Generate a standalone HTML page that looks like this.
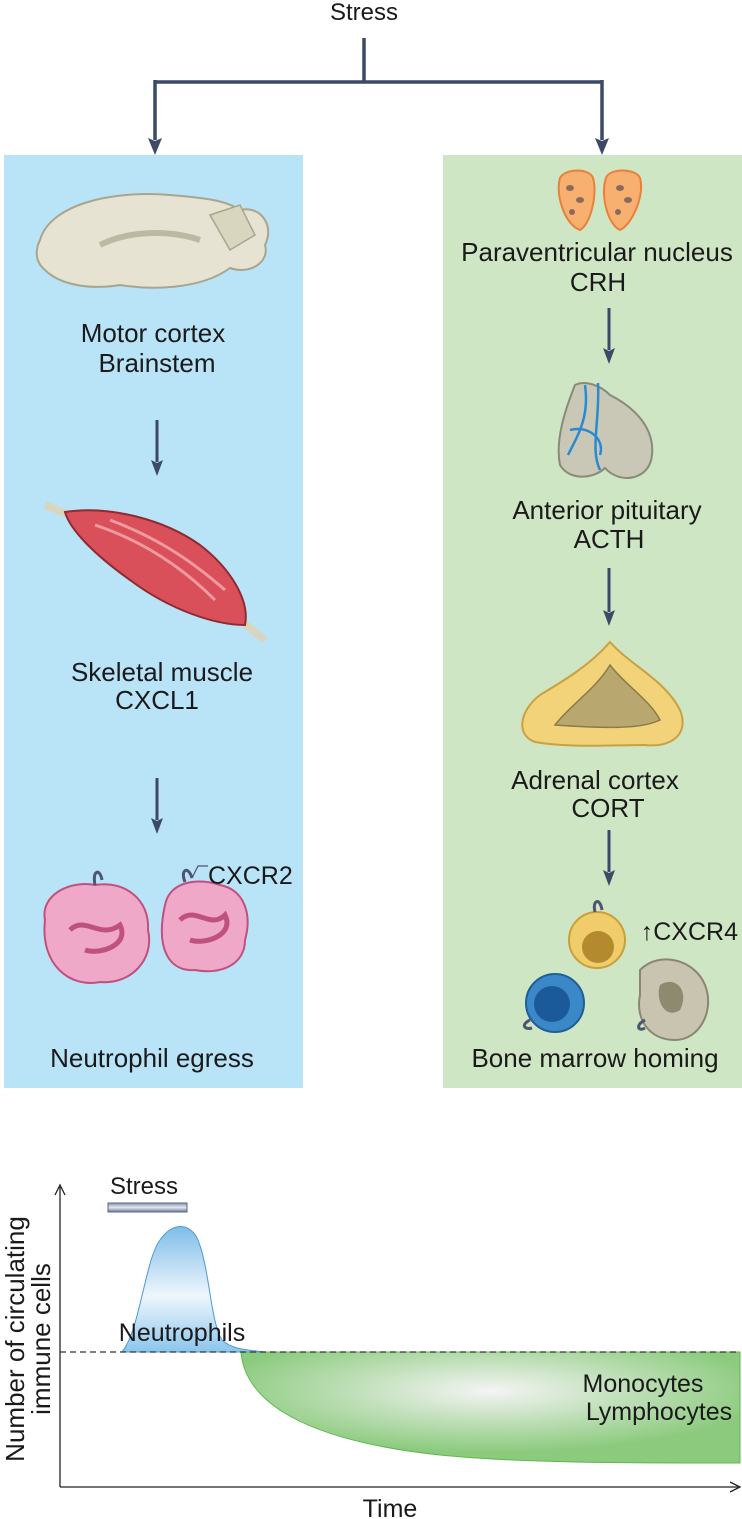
<!DOCTYPE html>
<html><head><meta charset="utf-8"><style>
html,body{margin:0;padding:0;background:#fff}
svg{display:block}
text{font-family:"Liberation Sans",Arial,sans-serif;fill:#1a1a1a}
</style></head><body>
<svg width="742" height="1519" viewBox="0 0 742 1519" xmlns="http://www.w3.org/2000/svg">
<defs>
<linearGradient id="blueg" x1="0" y1="0" x2="0" y2="1"><stop offset="0" stop-color="#7fbde8"/><stop offset="0.55" stop-color="#eef6fc"/><stop offset="1" stop-color="#8cc6ec"/></linearGradient>
<radialGradient id="greeng" cx="0.5" cy="0.35" r="0.55"><stop offset="0" stop-color="#f4f4f4"/><stop offset="1" stop-color="#8ccb7e"/></radialGradient>
<linearGradient id="barg" x1="0" y1="0" x2="0" y2="1"><stop offset="0" stop-color="#8893ad"/><stop offset="0.5" stop-color="#e2e6ee"/><stop offset="1" stop-color="#6c7896"/></linearGradient>
</defs>

<text x="364" y="20" font-size="24" text-anchor="middle">Stress</text>
<g stroke="#3d4a66" stroke-width="3.5" fill="none">
<path d="M364,38 V82 M155,82 H602 M155,80 V140 M602,80 V140"/>
</g>
<g fill="#3d4a66">
<path d="M148,138 L155,141 L162,138 L155,155Z"/>
<path d="M595,138 L602,141 L609,138 L602,155Z"/>
</g>

<rect x="4" y="155" width="299" height="933" fill="#b9e4f8"/>
<rect x="443" y="155" width="299" height="933" fill="#cfe6c4"/>

<!-- brain -->
<path d="M40,240 C50,205 110,190 170,195 C205,198 225,200 240,210 C260,205 275,225 265,245 C270,262 250,275 230,268 C200,290 150,290 120,285 C90,290 60,285 45,270 C35,262 35,250 40,240Z" fill="#e6e3d2" stroke="#a9a58d" stroke-width="2"/>
<path d="M210,215 L240,205 L255,235 L230,250Z" fill="#d9d6c0" stroke="#a9a58d" stroke-width="1.5"/>
<path d="M100,245 C130,230 170,230 200,240" stroke="#bcb9a2" stroke-width="6" fill="none"/>

<text x="153" y="342" font-size="26" text-anchor="middle">Motor cortex</text>
<text x="157" y="372" font-size="26" text-anchor="middle">Brainstem</text>

<g stroke="#3d4a66" stroke-width="3" fill="none">
<path d="M157,420 V462 M157,778 V820 M609,308 V350 M609,568 V612 M609,830 V872"/>
</g>
<g fill="#3d4a66">
<path d="M151,460 L157,463 L163,460 L157,476Z"/>
<path d="M151,818 L157,821 L163,818 L157,834Z"/>
<path d="M603,348 L609,351 L615,348 L609,364Z"/>
<path d="M603,610 L609,613 L615,610 L609,626Z"/>
<path d="M603,870 L609,873 L615,870 L609,886Z"/>
</g>

<!-- muscle -->
<path d="M45,505 L70,515" stroke="#d9d6c0" stroke-width="8"/>
<path d="M240,620 L265,640" stroke="#d9d6c0" stroke-width="8"/>
<path d="M65,512 C110,505 165,520 200,545 C230,568 250,600 245,625 C215,625 170,610 130,580 C95,555 70,530 65,512Z" fill="#d9505a" stroke="#8f2a30" stroke-width="2"/>
<path d="M95,525 C140,540 180,565 215,600 M110,520 C150,535 185,555 225,590" stroke="#ee9aa0" stroke-width="3" fill="none"/>

<text x="162" y="681" font-size="26" text-anchor="middle">Skeletal muscle</text>
<text x="157" y="709" font-size="26" text-anchor="middle">CXCL1</text>

<!-- neutrophils -->
<path d="M45,920 C40,895 70,880 95,885 C125,880 150,900 148,930 C155,960 130,985 100,982 C70,988 40,965 45,920Z" fill="#f0a8c8" stroke="#c0507e" stroke-width="2"/>
<path d="M70,930 C85,915 100,940 120,925 C130,945 100,955 85,950" stroke="#c0507e" stroke-width="5" fill="none"/>
<path d="M165,905 C170,880 200,878 220,885 C245,890 252,915 245,940 C245,965 220,975 195,970 C170,972 155,950 165,905Z" fill="#f0a8c8" stroke="#c0507e" stroke-width="2"/>
<path d="M180,920 C195,905 210,930 225,915 C235,935 205,945 190,940" stroke="#c0507e" stroke-width="5" fill="none"/>
<path d="M95,885 C92,870 100,868 102,880 M185,882 C180,870 188,865 192,878" stroke="#4d5570" stroke-width="3" fill="none"/>
<path d="M192,878 L198,866 L208,866" stroke="#4d5570" stroke-width="1.2" fill="none"/>
<text x="208" y="884" font-size="25">CXCR2</text>
<text x="152" y="1067" font-size="26" text-anchor="middle">Neutrophil egress</text>

<!-- PVN -->
<path d="M560,178 C565,168 590,168 593,178 C598,195 590,225 580,230 C565,225 555,195 560,178Z" fill="#f8b070" stroke="#e8803a" stroke-width="2"/>
<path d="M606,178 C609,168 636,168 640,178 C645,195 632,225 620,230 C608,225 600,195 606,178Z" fill="#f8b070" stroke="#e8803a" stroke-width="2"/>
<g fill="#8a6a5a"><ellipse cx="570" cy="188" rx="4" ry="3"/><ellipse cx="580" cy="200" rx="4" ry="3"/><ellipse cx="572" cy="212" rx="3" ry="3"/><ellipse cx="620" cy="188" rx="4" ry="3"/><ellipse cx="628" cy="200" rx="4" ry="3"/><ellipse cx="618" cy="212" rx="3" ry="3"/></g>
<text x="597" y="261" font-size="26" text-anchor="middle">Paraventricular nucleus</text>
<text x="598" y="291" font-size="26" text-anchor="middle">CRH</text>

<!-- pituitary -->
<path d="M575,385 C565,410 555,440 560,465 C570,482 595,478 605,468 C620,485 650,480 652,455 C655,425 630,405 610,395 C600,385 585,380 575,385Z" fill="#c9c8b6" stroke="#8a8a78" stroke-width="2"/>
<path d="M585,385 C590,420 575,440 568,455 M598,383 C600,420 590,450 600,470 M570,430 C590,425 605,440 600,455" stroke="#2a8ad0" stroke-width="2.5" fill="none"/>
<text x="607" y="519" font-size="26" text-anchor="middle">Anterior pituitary</text>
<text x="609" y="548" font-size="26" text-anchor="middle">ACTH</text>

<!-- adrenal -->
<path d="M610,642 C630,665 665,680 680,710 C690,735 670,748 645,745 C610,745 570,748 535,742 C515,735 520,710 540,695 C565,680 590,665 610,642Z" fill="#f3d37a" stroke="#c9a042" stroke-width="2"/>
<path d="M610,665 C625,685 650,700 660,720 C640,730 600,728 555,725 C570,705 595,690 610,665Z" fill="#b8a870" stroke="#8a7b48" stroke-width="1.5"/>
<text x="595" y="789" font-size="26" text-anchor="middle">Adrenal cortex</text>
<text x="608" y="817" font-size="26" text-anchor="middle">CORT</text>

<!-- cells -->
<circle cx="597" cy="940" r="28" fill="#f1cc6a" stroke="#c8a03a" stroke-width="2"/>
<circle cx="598" cy="947" r="16" fill="#b48a2e"/>
<circle cx="555" cy="1003" r="29" fill="#3b88c8" stroke="#1f5e96" stroke-width="2"/>
<circle cx="552" cy="1004" r="18" fill="#1a5a9a"/>
<path d="M640,970 C660,950 695,960 705,985 C715,1010 700,1040 675,1040 C650,1040 635,1020 640,995Z" fill="#c8c4b0" stroke="#8a8672" stroke-width="2"/>
<path d="M660,985 C675,975 690,990 680,1010 C665,1020 655,1000 660,985Z" fill="#8e8a70"/>
<path d="M595,912 C592,900 600,897 602,910 M530,1020 C520,1025 525,1030 532,1028 M645,1020 C635,1025 638,1032 645,1028" stroke="#4d5570" stroke-width="3" fill="none"/>
<text x="738" y="940" font-size="25" text-anchor="end">↑CXCR4</text>
<text x="595" y="1067" font-size="26" text-anchor="middle">Bone marrow homing</text>

<!-- graph -->
<g stroke="#222" stroke-width="1.3" fill="none">
<path d="M60,1487 V1187"/><path d="M55,1195 L60,1185 L65,1195"/>
<path d="M60,1487 H738"/><path d="M730,1482 L740,1487 L730,1492"/>
</g>
<rect x="108" y="1203" width="79" height="9" fill="url(#barg)" stroke="#5a6680" stroke-width="1"/>
<text x="110" y="1194" font-size="24">Stress</text>
<path d="M241,1352 C245,1400 300,1440 440,1455 C520,1463 620,1463 740,1463 V1352 Z" fill="url(#greeng)" stroke="#5cb84c" stroke-width="1"/>
<path d="M122,1352 C140,1330 145,1260 160,1240 C172,1222 190,1222 198,1240 C210,1270 210,1320 222,1340 C232,1350 250,1350 265,1352 Z" fill="url(#blueg)" stroke="#4a9ad8" stroke-width="1"/>
<path d="M60,1352 H740" stroke="#333" stroke-width="1.2" stroke-dasharray="6,4"/>
<text x="182" y="1341" font-size="25" text-anchor="middle">Neutrophils</text>
<text x="643" y="1392" font-size="25" text-anchor="middle">Monocytes</text>
<text x="659" y="1420" font-size="25" text-anchor="middle">Lymphocytes</text>
<text transform="translate(24,1339) rotate(-90)" font-size="26" text-anchor="middle">Number of circulating</text>
<text transform="translate(50,1339) rotate(-90)" font-size="26" text-anchor="middle">immune cells</text>
<text x="390" y="1517" font-size="25" text-anchor="middle">Time</text>
</svg>
</body></html>
